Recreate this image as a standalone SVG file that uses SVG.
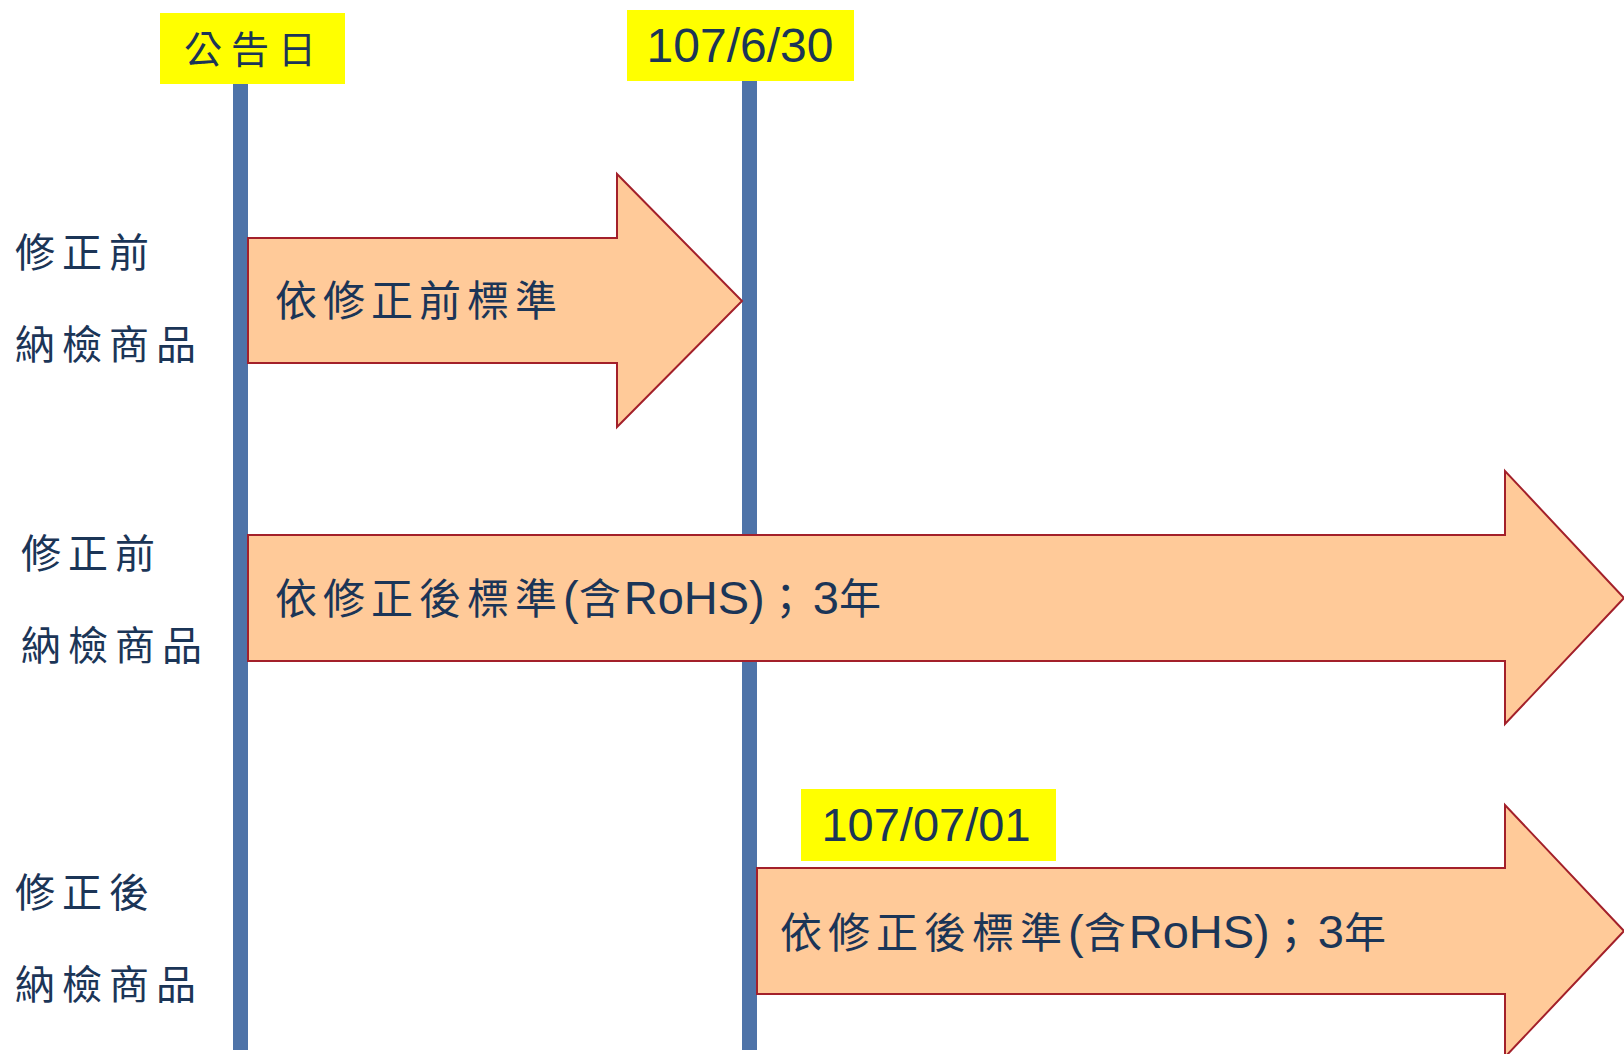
<svg xmlns="http://www.w3.org/2000/svg" width="1624" height="1054" viewBox="0 0 1624 1054">
<style>
.bg{fill:#ffffff}
.tl{fill:#4E73A8}
.tag{fill:#FFFF00}
.arrow{fill:#FFCA99;stroke:#A3202A;stroke-width:2;stroke-linejoin:miter}
.cjk{font-family:"Noto Sans CJK TC","Noto Sans CJK SC",sans-serif;fill:#1B3557}
.lat{font-family:"Liberation Sans","Noto Sans CJK TC",sans-serif;fill:#1B3557}
.lbl{font-size:40px;letter-spacing:7px}
.atx{font-size:42px}
.big{font-size:47px}
</style>
<rect class="bg" x="0" y="0" width="1624" height="1054"/>
<g id="timelines">
  <rect id="line-announce" class="tl" x="233" y="84" width="15" height="966"/>
  <rect id="line-1070630" class="tl" x="742" y="80" width="15" height="970"/>
</g>
<g id="tag-announce">
  <rect class="tag" x="160" y="13" width="185" height="71"/>
  <text class="cjk" x="184" y="63" font-size="38" letter-spacing="9">公告日</text>
</g>
<g id="tag-1070630">
  <rect class="tag" x="627" y="10" width="227" height="71"/>
  <text class="lat" x="740" y="62" font-size="48" text-anchor="middle">107/6/30</text>
</g>
<g id="tag-1070701">
  <rect class="tag" x="801" y="789" width="255" height="72"/>
  <text class="lat" x="926" y="841" font-size="47" text-anchor="middle">107/07/01</text>
</g>
<g id="connectors">
  <polygon id="arrow-1" class="arrow" points="248,238 617,238 617,174 742,301 617,427 617,363 248,363"/>
  <polygon id="arrow-2" class="arrow" points="248,535 1505,535 1505,471 1624,598 1505,724 1505,661 248,661"/>
  <polygon id="arrow-3" class="arrow" points="757,868 1505,868 1505,805 1624,931 1505,1057 1505,994 757,994"/>
</g>
<g id="arrow-1-label">
  <text class="cjk atx" x="275" y="316" letter-spacing="6">依修正前標準</text>
</g>
<g id="arrow-2-label">
  <text class="lat atx" x="275" y="614"><tspan class="cjk" letter-spacing="6">依修正後標準</tspan><tspan class="big">(</tspan><tspan class="cjk" letter-spacing="3">含</tspan><tspan class="big">RoHS)</tspan><tspan class="cjk" letter-spacing="6">；</tspan><tspan class="big">3</tspan><tspan class="cjk">年</tspan></text>
</g>
<g id="arrow-3-label">
  <text class="lat atx" x="780" y="948"><tspan class="cjk" letter-spacing="6">依修正後標準</tspan><tspan class="big">(</tspan><tspan class="cjk" letter-spacing="3">含</tspan><tspan class="big">RoHS)</tspan><tspan class="cjk" letter-spacing="6">；</tspan><tspan class="big">3</tspan><tspan class="cjk">年</tspan></text>
</g>
<g id="row-1-label">
  <text class="cjk lbl" x="15" y="267">修正前</text>
  <text class="cjk lbl" x="15" y="359">納檢商品</text>
</g>
<g id="row-2-label">
  <text class="cjk lbl" x="21" y="568">修正前</text>
  <text class="cjk lbl" x="21" y="660">納檢商品</text>
</g>
<g id="row-3-label">
  <text class="cjk lbl" x="15" y="907">修正後</text>
  <text class="cjk lbl" x="15" y="999">納檢商品</text>
</g>
</svg>
